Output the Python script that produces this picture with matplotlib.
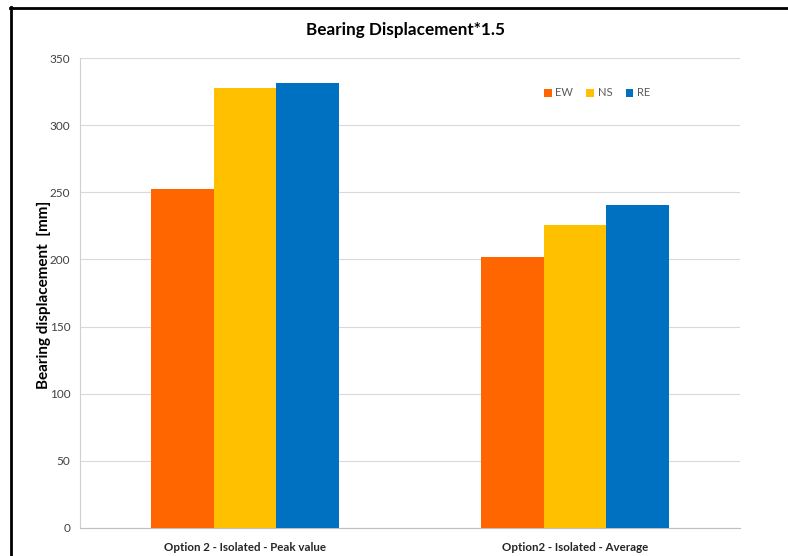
import matplotlib
matplotlib.use("Agg")
import matplotlib.pyplot as plt
from matplotlib.lines import Line2D
import numpy as np

categories = ["Option 2 - Isolated - Peak value", "Option2 - Isolated - Average"]
series_names = ["EW", "NS", "RE"]
ew = [252.2, 201.6]
ns = [327.7, 225.4]
re_vals = [331.6, 240.5]
colors = ["#FF6600", "#FFC000", "#0070C0"]
yticks = [0, 50, 100, 150, 200, 250, 300, 350]

plt.rcParams['font.family'] = ['Lato', 'DejaVu Sans']

fig = plt.figure(figsize=(7.88, 5.56), dpi=100)
ax = fig.add_axes([80/788, 1-528/556, 660/788, 470/556])

x = np.arange(len(categories))
w = 0.19
for i, (name, vals, c) in enumerate(zip(series_names, [ew, ns, re_vals], colors)):
    ax.bar(x + (i-1)*w, vals, width=w, color=c, label=name, zorder=3)

ax.set_xlim(-0.5, 1.5)
ax.set_ylim(0, 350)
ax.set_yticks(yticks)
ax.set_xticks(x)
ax.set_xticklabels(categories, fontsize=8.3, fontweight='bold', color='#262626')
ax.tick_params(axis='y', length=0, labelsize=8.5, colors='#404040', pad=7)
ax.tick_params(axis='x', length=0, pad=10)
ax.grid(axis='y', color='#D9D9D9', linewidth=0.8, zorder=0)
for s in ['top', 'right']:
    ax.spines[s].set_visible(False)
ax.spines['left'].set_color('#D0D0D0')
ax.spines['bottom'].set_color('#BFBFBF')
ax.spines['left'].set_linewidth(0.8)
ax.spines['bottom'].set_linewidth(0.8)

ax.set_ylabel("Bearing displacement  [mm]", fontsize=11, fontweight='bold', color='black')
ax.yaxis.set_label_coords((51-80)/660, 0.495)

fig.text(405/788, 1-30/556, "Bearing Displacement*1.5", ha='center', va='center',
         fontsize=12.3, fontweight='bold', color='black')

leg = ax.legend(loc='center', bbox_to_anchor=((597-80)/660, (528-93)/470), ncol=3,
                frameon=False, fontsize=8, handlelength=0.7, handleheight=0.7,
                handletextpad=0.3, columnspacing=1.2)
for t in leg.get_texts():
    t.set_color('#595959')

# screenshot border lines
fig.add_artist(Line2D([11/788, 11/788], [0, 1-7/556], color='black', linewidth=2, transform=fig.transFigure))
fig.add_artist(Line2D([10/788, 1], [1-7.5/556, 1-7.5/556], color='black', linewidth=2, transform=fig.transFigure))

fig.savefig("out.png", dpi=100, facecolor='white')
